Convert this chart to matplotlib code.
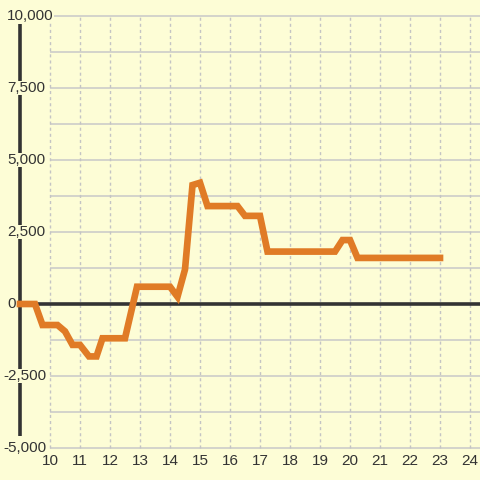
import matplotlib
matplotlib.use("Agg")
import matplotlib.pyplot as plt
import numpy as np

# data
hours = [9.0, 9.5, 9.75, 10.25, 10.5, 10.75, 11.0, 11.3, 11.55, 11.75, 12.5, 12.9,
         14.0, 14.25, 14.5, 14.75, 15.0, 15.25, 16.25, 16.5, 17.0, 17.25, 19.5,
         19.75, 20.0, 20.25, 23.0]
values = [0, 0, -730, -730, -950, -1420, -1420, -1820, -1820, -1190, -1190, 600,
          600, 250, 1200, 4130, 4210, 3400, 3400, 3060, 3060, 1820, 1820,
          2220, 2220, 1600, 1600]
x_ticks = list(range(10, 25))
y_ticks = [-5000, -2500, 0, 2500, 5000, 7500, 10000]
y_tick_labels = ["-5,000", "-2,500", "0", "2,500", "5,000", "7,500", "10,000"]
y_grid = list(np.arange(-5000, 10001, 1250))

BG = "#fdfdd6"
DARK = "#333333"
ORANGE = "#e07b26"
GRID = "#c8c8c8"

plt.rcParams["font.family"] = ["Liberation Sans", "DejaVu Sans"]

fig = plt.figure(figsize=(4.8, 4.8), dpi=100, facecolor=BG)
ax = fig.add_axes([0, 0, 1, 1])
ax.set_facecolor(BG)
ax.axis("off")

# pixel mapping: x px 20 -> 9.0, 30 px per hour; y px 304 -> 0, 72 px per 2500
ax.set_xlim(9 - 20 / 30, 9 + 460 / 30)
ax.set_ylim(-176 / 72 * 2500, 304 / 72 * 2500)

# horizontal grid
for v in y_grid:
    if v == 0:
        continue
    ax.plot([10, 24.4], [v, v], color=GRID, lw=1.1, zorder=1, solid_capstyle="butt")

# vertical dotted grid
for t in x_ticks:
    ax.plot([t, t], [-5000, 10000], color="#c4c4c4", lw=1.0, ls=(0, (2.2, 2.2)), zorder=1)

# y axis line
ax.plot([9, 9], [-4583, 9722], color=DARK, lw=2.6, zorder=2, solid_capstyle="butt")
# zero line
ax.plot([9, 24.4], [0, 0], color=DARK, lw=2.6, zorder=2, solid_capstyle="butt")

# series
ax.plot(hours, values, color=ORANGE, lw=4.8, zorder=4,
        solid_joinstyle="miter", solid_capstyle="projecting")

# y tick labels
for v, lab in zip(y_ticks, y_tick_labels):
    xpx = 3 if lab.startswith("-") else 7
    ax.text(9 + (xpx - 20) / 30, v, lab, ha="left", va="center", fontsize=11,
            color=DARK, zorder=3,
            bbox=dict(facecolor=BG, edgecolor="none", pad=0.3))

# x tick labels
ylab = (304 - 461) / 72 * 2500
for t in x_ticks:
    ax.text(t, ylab, str(t), ha="center", va="center", fontsize=11, color=DARK)

fig.savefig("out.png", dpi=100, facecolor=BG)
